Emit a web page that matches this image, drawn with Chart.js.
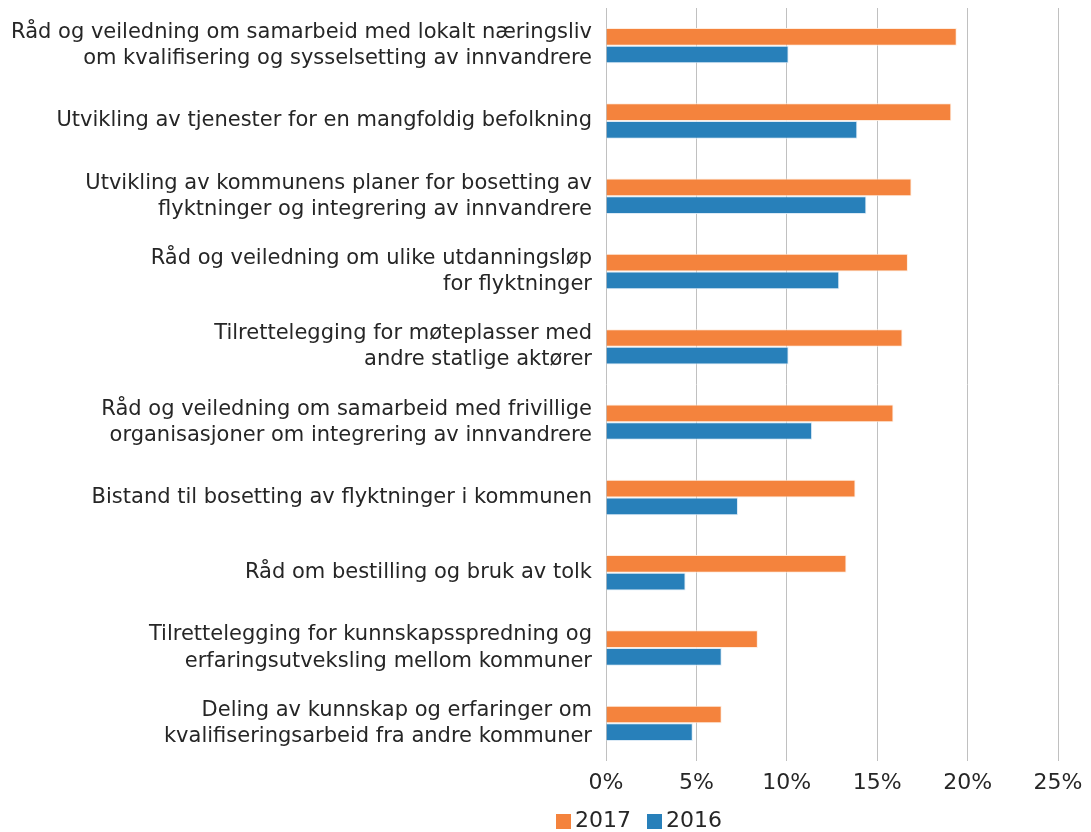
<!DOCTYPE html>
<html lang="no">
<head>
<meta charset="utf-8">
<title>Bistand fra IMDi 2016 og 2017</title>
<script src="https://cdn.jsdelivr.net/npm/chart.js@4.4.1/dist/chart.umd.min.js"></script>
<style>
    body { margin: 0; background: #fff; }
    .wrap { position: relative; width: 1091px; height: 832px; }
    .legend {
        position: absolute; left: 556px; top: 808px;
        font-family: 'DejaVu Sans', sans-serif;
        font-size: 22px; line-height: 24px; color: #262626; display: flex; align-items: center;
    }
    .legend span.box { display: inline-block; width: 15px; height: 15px; margin-right: 4px; margin-top: 3px; }
    .legend span.item { display: flex; align-items: center; margin-right: 16px; }
</style>
</head>
<body>
<div class="wrap">
    <canvas id="chart" width="1091" height="832"></canvas>
    <div class="legend">
        <span class="item"><span class="box" style="background:#f4833d"></span>2017</span>
        <span class="item"><span class="box" style="background:#2880ba"></span>2016</span>
    </div>
</div>
<script>
// ===== DATA =====
const categories = [
    ['Råd og veiledning om samarbeid med lokalt næringsliv', 'om kvalifisering og sysselsetting av innvandrere'],
    'Utvikling av tjenester for en mangfoldig befolkning',
    ['Utvikling av kommunens planer for bosetting av', 'flyktninger og integrering av innvandrere'],
    ['Råd og veiledning om ulike utdanningsløp', 'for flyktninger'],
    ['Tilrettelegging for møteplasser med', 'andre statlige aktører'],
    ['Råd og veiledning om samarbeid med frivillige', 'organisasjoner om integrering av innvandrere'],
    'Bistand til bosetting av flyktninger i kommunen',
    'Råd om bestilling og bruk av tolk',
    ['Tilrettelegging for kunnskapsspredning og', 'erfaringsutveksling mellom kommuner'],
    ['Deling av kunnskap og erfaringer om', 'kvalifiseringsarbeid fra andre kommuner']
];

const values2017 = [19.4, 19.1, 16.9, 16.7, 16.4, 15.9, 13.8, 13.3, 8.4, 6.4];
const values2016 = [10.1, 13.9, 14.4, 12.9, 10.1, 11.4, 7.3, 4.4, 6.4, 4.8];

const xTicks = [0, 5, 10, 15, 20, 25];

// ===== CHART =====
const fontFamily = "'DejaVu Sans', sans-serif";
const textColor = '#262626';

new Chart(document.getElementById('chart'), {
    type: 'bar',
    data: {
        labels: categories,
        datasets: [{
            label: '2017',
            data: values2017,
            backgroundColor: '#f4833d',
            borderColor: 'rgba(255, 235, 220, 0.9)',
            borderWidth: 1
        }, {
            label: '2016',
            data: values2016,
            backgroundColor: '#2880ba',
            borderColor: 'rgba(215, 232, 245, 0.9)',
            borderWidth: 1
        }]
    },
    options: {
        indexAxis: 'y',
        responsive: false,
        animation: false,
        datasets: {
            bar: {
                categoryPercentage: 0.47,
                barPercentage: 1.0
            }
        },
        layout: {
            padding: { top: 8, right: 33, left: 0, bottom: 0 }
        },
        plugins: {
            legend: { display: false },
            tooltip: { enabled: false }
        },
        scales: {
            x: {
                min: 0,
                max: 25,
                afterBuildTicks: function(scale) {
                    scale.ticks = xTicks.map(v => ({ value: v }));
                },
                afterFit: function(scale) {
                    scale.height = 71;
                    scale.paddingLeft = 0;
                    scale.paddingRight = 0;
                },
                grid: {
                    color: '#c0c0c0',
                    lineWidth: 1,
                    drawTicks: false
                },
                border: { display: false },
                ticks: {
                    padding: 9,
                    color: textColor,
                    font: { family: fontFamily, size: 22 },
                    callback: function(value) { return value + '%'; }
                }
            },
            y: {
                afterFit: function(scale) {
                    scale.width = 606;
                    scale.paddingTop = 0;
                    scale.paddingBottom = 0;
                },
                grid: { display: false, drawTicks: false },
                border: { display: false },
                ticks: {
                    padding: 14,
                    color: textColor,
                    font: { family: fontFamily, size: 21, lineHeight: 1.24 }
                }
            }
        }
    }
});
</script>
</body>
</html>
